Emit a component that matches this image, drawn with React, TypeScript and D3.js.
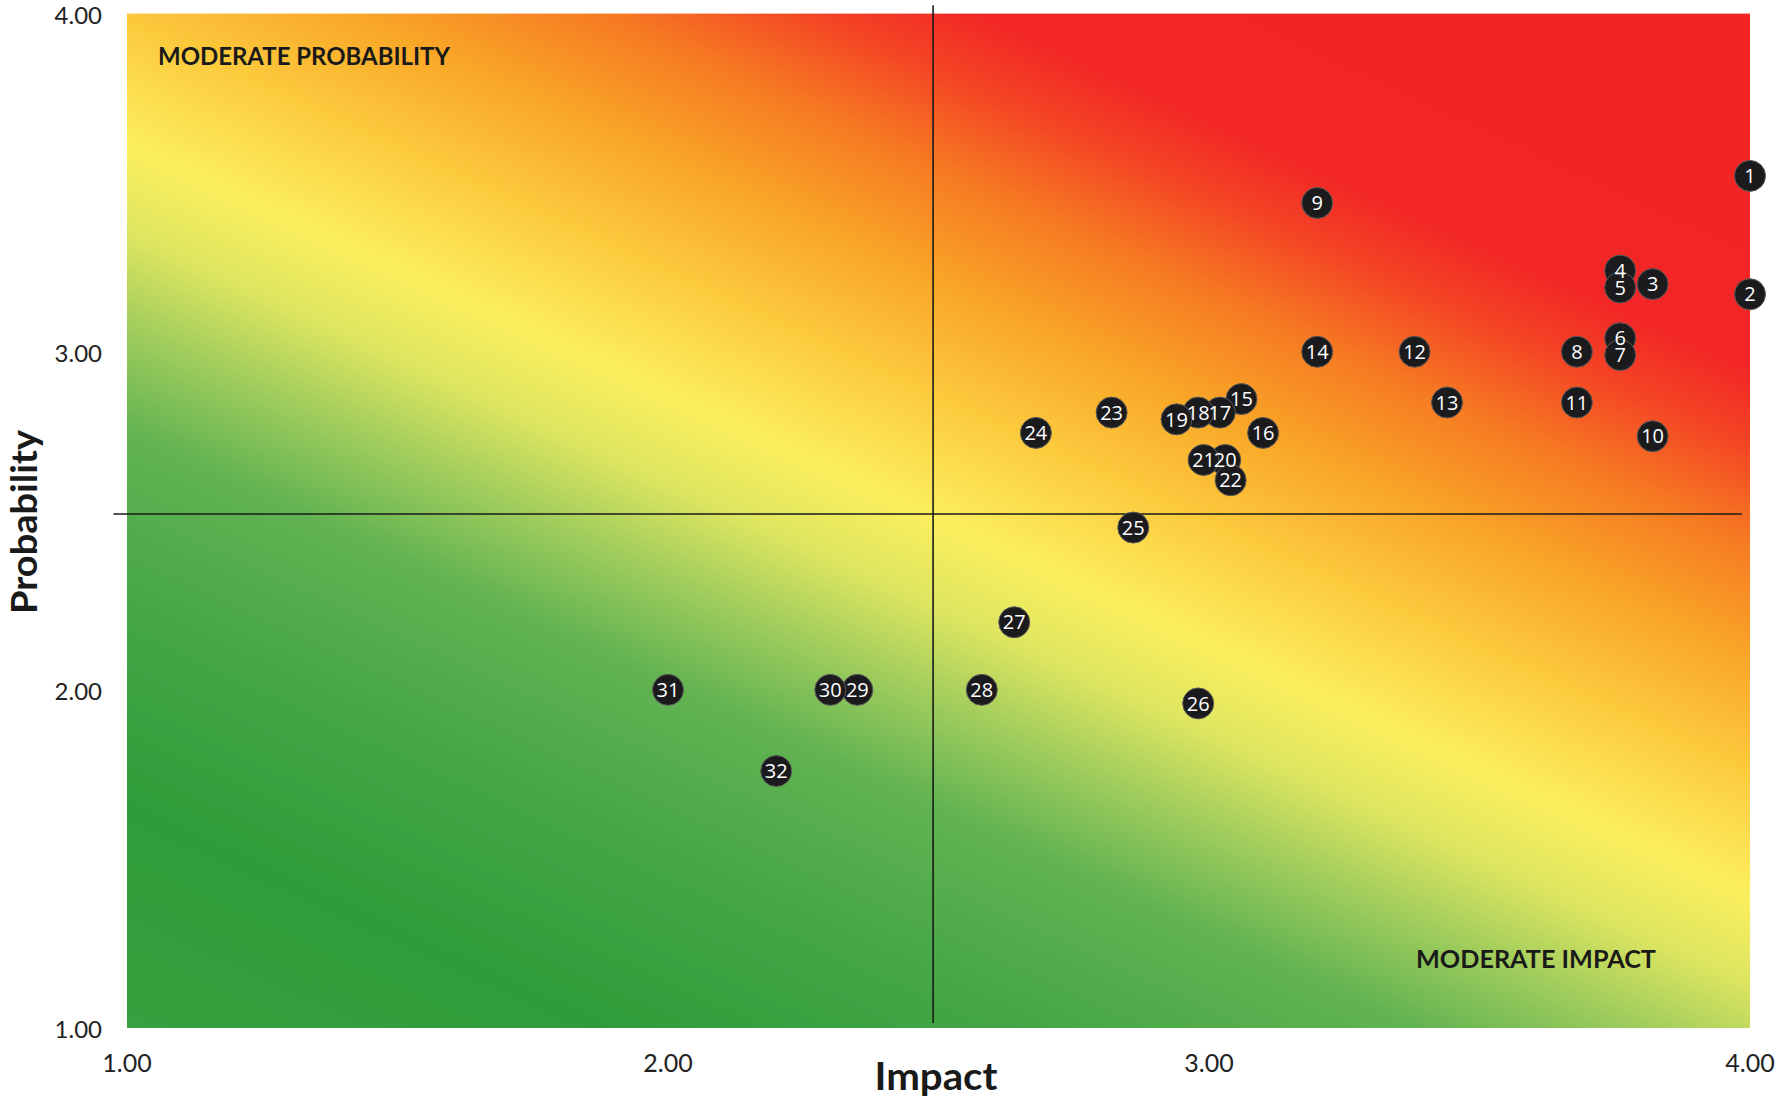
import React from 'react';
import * as d3 from 'd3';

// ---- data ----
const riskIds = [1, 2, 3, 4, 5, 6, 7, 8, 9, 10, 11, 12, 13, 14, 15, 16, 17, 18, 19, 20, 21, 22, 23, 24, 25, 26, 27, 28, 29, 30, 31, 32];
const impactValues = [4.0, 4.0, 3.82, 3.76, 3.76, 3.76, 3.76, 3.68, 3.2, 3.82, 3.68, 3.38, 3.44, 3.2, 3.06, 3.1, 3.02, 2.98, 2.94, 3.03, 2.99, 3.04, 2.82, 2.68, 2.86, 2.98, 2.64, 2.58, 2.35, 2.3, 2.0, 2.2];
const probabilityValues = [3.52, 3.17, 3.2, 3.24, 3.19, 3.04, 2.99, 3.0, 3.44, 2.75, 2.85, 3.0, 2.85, 3.0, 2.86, 2.76, 2.82, 2.82, 2.8, 2.68, 2.68, 2.62, 2.82, 2.76, 2.48, 1.96, 2.2, 2.0, 2.0, 2.0, 2.0, 1.76];
const xTickValues = [1, 2, 3, 4];
const yTickValues = [1, 2, 3, 4];
const quadrantImpact = 2.49;
const quadrantProbability = 2.52;
const xTitle = 'Impact';
const yTitle = 'Probability';
const topLeftLabel = 'MODERATE PROBABILITY';
const bottomRightLabel = 'MODERATE IMPACT';

// ---- styles ----
const gradientStops: [number, string][] = [
  [-800, '#38a03e'],
  [-600, '#2e9d39'],
  [-420, '#45a646'],
  [-260, '#62b352'],
  [-170, '#9ccb5c'],
  [-80, '#dde560'],
  [0, '#fbef5e'],
  [110, '#fccb3e'],
  [210, '#f9a828'],
  [320, '#f67a22'],
  [410, '#f44424'],
  [480, '#f22626'],
  [805, '#f22424'],
];

export default function App() {
  const W = 1782;
  const H = 1100;
  const left = 127;
  const right = 1750;
  const top = 13.6;
  const bottom = 1028;

  const xScale = d3.scaleLinear().domain([1, 4]).range([left, right]);
  const yScale = d3.scaleLinear().domain([1, 4]).range([bottom, top]);

  const cx = (left + right) / 2;
  const cy = (top + bottom) / 2;
  const len = Math.hypot(750, 1623);
  const nx = 750 / len;
  const ny = -1623 / len;
  const sMin = gradientStops[0][0];
  const sMax = gradientStops[gradientStops.length - 1][0];

  const points = riskIds.map((id, i) => ({ id, x: impactValues[i], y: probabilityValues[i] }));
  const fmt = d3.format('.2f');
  const tickFont = 'Lato, "DejaVu Sans", sans-serif';

  return (
    <svg width={W} height={H} style={{ position: 'absolute', left: 0, top: 0, background: '#fff' }}>
      <defs>
        <linearGradient
          id="riskGrad"
          gradientUnits="userSpaceOnUse"
          x1={cx + sMin * nx}
          y1={cy + sMin * ny}
          x2={cx + sMax * nx}
          y2={cy + sMax * ny}
        >
          {gradientStops.map(([s, c], i) => (
            <stop key={i} offset={(s - sMin) / (sMax - sMin)} stopColor={c} />
          ))}
        </linearGradient>
      </defs>
      <rect x={left} y={top} width={right - left} height={bottom - top} fill="url(#riskGrad)" />

      {/* quadrant lines */}
      <line x1={xScale(quadrantImpact)} x2={xScale(quadrantImpact)} y1={yScale(4.025)} y2={yScale(1.015)} stroke="#1a1a1a" strokeWidth={1.6} />
      <line x1={xScale(0.975)} x2={xScale(3.985)} y1={yScale(quadrantProbability)} y2={yScale(quadrantProbability)} stroke="#1a1a1a" strokeWidth={1.6} />

      {/* corner labels */}
      <text x={158} y={65} fontFamily={tickFont} fontWeight={700} fontSize={24} fill="#1a1a1a" textLength={292} lengthAdjust="spacingAndGlyphs">
        {topLeftLabel}
      </text>
      <text x={1416} y={968} fontFamily={tickFont} fontWeight={700} fontSize={24} fill="#1a1a1a" textLength={240} lengthAdjust="spacingAndGlyphs">
        {bottomRightLabel}
      </text>

      {/* x ticks */}
      {xTickValues.map((v) => (
        <text key={'x' + v} x={xScale(v)} y={1072} textAnchor="middle" fontFamily={tickFont} fontSize={25} fill="#222">
          {fmt(v)}
        </text>
      ))}
      {/* y ticks */}
      {yTickValues.map((v) => (
        <text key={'y' + v} x={102} y={yScale(v) + 1.5} dy="0.36em" textAnchor="end" fontFamily={tickFont} fontSize={24} fill="#222">
          {fmt(v)}
        </text>
      ))}

      {/* axis titles */}
      <text x={936} y={1090} textAnchor="middle" fontFamily={tickFont} fontWeight={700} fontSize={38} fill="#1a1a1a" textLength={123} lengthAdjust="spacingAndGlyphs">
        {xTitle}
      </text>
      <text transform={`translate(37,522) rotate(-90)`} textAnchor="middle" fontFamily={tickFont} fontWeight={700} fontSize={36} fill="#1a1a1a" textLength={184} lengthAdjust="spacingAndGlyphs">
        {yTitle}
      </text>

      {/* risk points: circles first, labels on top */}
      {points.map((p) => (
        <circle key={'c' + p.id} cx={xScale(p.x)} cy={yScale(p.y)} r={15.5} fill="#1b1a1c" stroke="#5a5a5a" strokeWidth={1} />
      ))}
      {points.map((p) => (
        <text
          key={'t' + p.id}
          x={xScale(p.x)}
          y={yScale(p.y)}
          textAnchor="middle"
          dy="0.36em"
          fontFamily='"Open Sans", sans-serif'
          fontSize={20}
          fill="#ffffff"
        >
          {p.id}
        </text>
      ))}
    </svg>
  );
}
